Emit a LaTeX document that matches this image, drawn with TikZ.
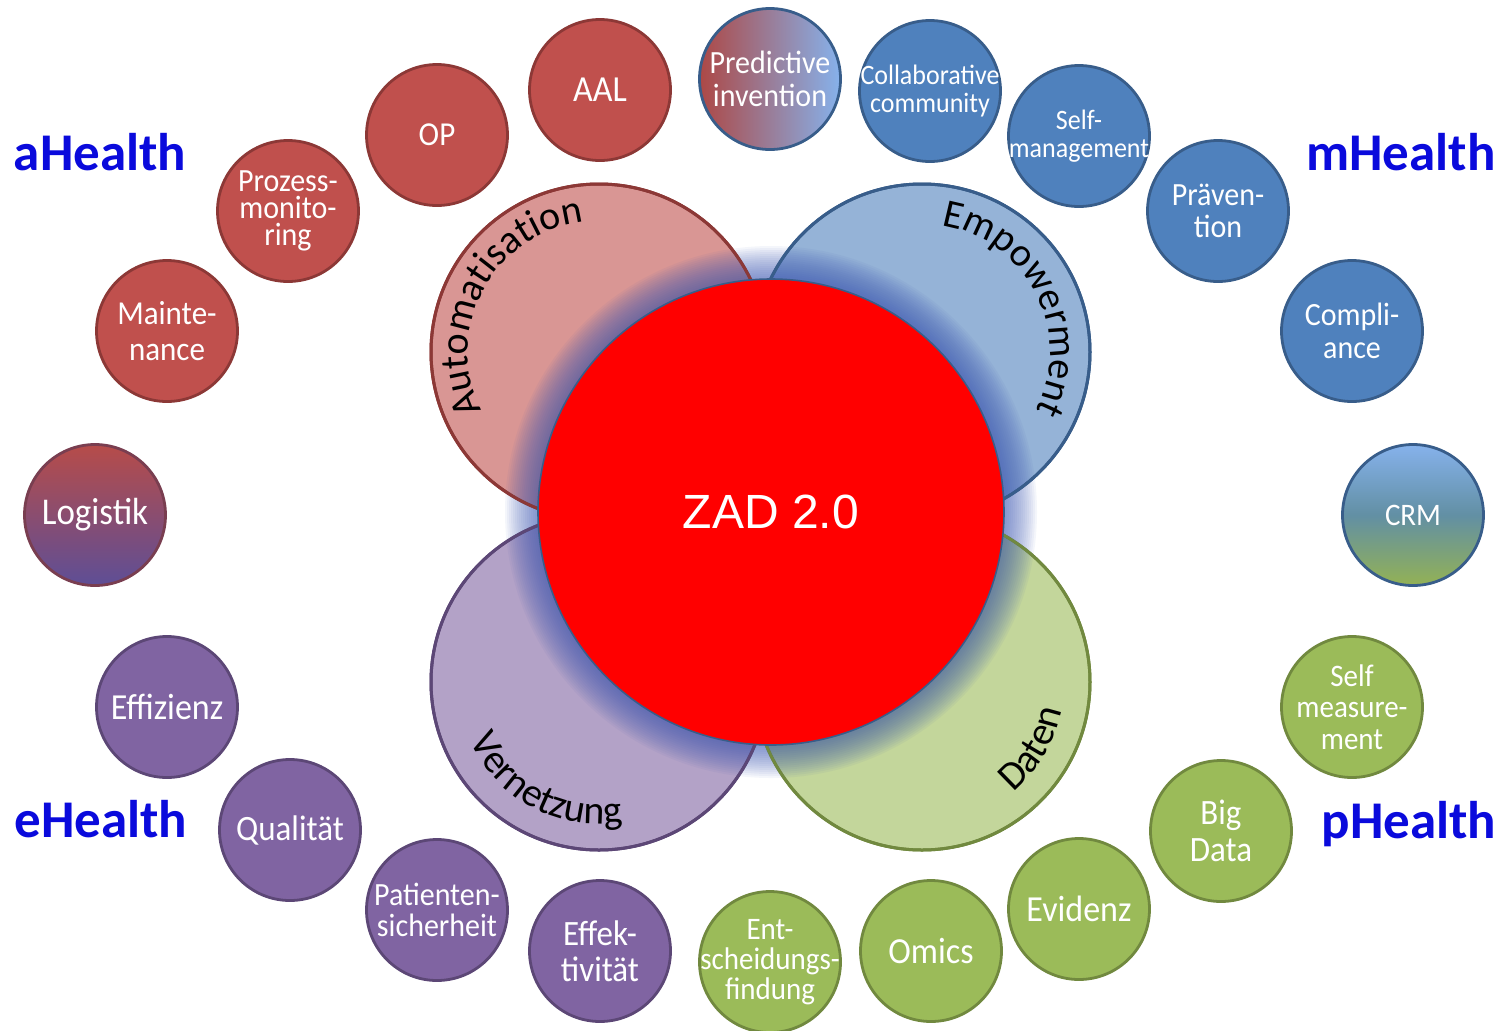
\documentclass[tikz,border=0pt]{standalone}
\usepackage{fontspec}
\setmainfont{Carlito}
\newfontfamily\arialfont{Liberation Sans}
\usetikzlibrary{decorations.text}

\definecolor{redfill}{HTML}{C0504D}
\definecolor{redline}{HTML}{8C3836}
\definecolor{bluefill}{HTML}{4F81BD}
\definecolor{blueline}{HTML}{385D8A}
\definecolor{purplefill}{HTML}{8064A2}
\definecolor{purpleline}{HTML}{5C4776}
\definecolor{greenfill}{HTML}{9BBB59}
\definecolor{greenline}{HTML}{71893F}
\definecolor{redlight}{HTML}{D99694}
\definecolor{bluelight}{HTML}{95B3D7}
\definecolor{purplelight}{HTML}{B3A2C7}
\definecolor{greenlight}{HTML}{C3D69B}
\definecolor{glowblue}{HTML}{3A55B0}
\definecolor{healthblue}{HTML}{0A0ADC}
\definecolor{skyblue}{HTML}{86B2EC}
\definecolor{dullpurple}{HTML}{5E4E96}

\newcommand\arcfont{\fontsize{20}{22}\selectfont}

\tikzset{
  bubble/.style={circle, minimum size=70.5pt, inner sep=0pt, line width=1.4pt},
  redb/.style={bubble, fill=redfill, draw=redline},
  blueb/.style={bubble, fill=bluefill, draw=blueline},
  purpleb/.style={bubble, fill=purplefill, draw=purpleline},
  greenb/.style={bubble, fill=greenfill, draw=greenline},
  btxt/.style 2 args={text=white, align=center, inner sep=0pt, yscale=1.08,
    font=\fontsize{#1}{#2}\selectfont},
  bigc/.style={circle, minimum size=168pt, inner sep=0pt, line width=1.5pt},
  zadc/.style={circle, minimum size=233pt, inner sep=0pt, fill=red, draw=blueline,
    line width=0.8pt, text=white, font=\arialfont\fontsize{24}{28}\selectfont},
  health/.style={text=healthblue, anchor=base, font=\bfseries\fontsize{26.5}{30}\selectfont},
  arctext/.style={decorate, decoration={text along path, text align=center,
    text={|\arcfont|#1}}}
}

\begin{document}
\begin{tikzpicture}[x=0.5pt,y=-0.5pt]
\useasboundingbox (0,0) rectangle (1506,1030);

% four fields
\node[bigc, fill=redlight, draw=redline] (auto) at (599,352) {};
\node[bigc, fill=bluelight, draw=blueline] (emp) at (922,352) {};
\node[bigc, fill=purplelight, draw=purpleline] (vern) at (599,682) {};
\node[bigc, fill=greenlight, draw=greenline] (daten) at (922,682) {};

% glow and centre
\coordinate (mid) at (771,512);
\foreach \r in {266,264,...,236}
  \fill[glowblue, opacity=0.055] (mid) circle (\r);
\foreach \n/\c in {auto/redline, emp/blueline, vern/purpleline, daten/greenline}
  \draw[\c, line width=1.5pt] (\n.center) circle (168);
\node[zadc] (zad) at (mid) {ZAD 2.0};

\path[arctext=Automatisation] (auto.center) ++(138:131) arc[start angle=138, end angle=279, radius=131];
\path[arctext=Empowerment] (emp.center) ++(-97:128) arc[start angle=-97, end angle=43, radius=128];
\path[arctext=Vernetzung] (vern.center) ++(178:142) arc[start angle=178, end angle=58, radius=142];
\path[arctext=Daten] (daten.center) ++(91:143) arc[start angle=91, end angle=-29, radius=143];

% aHealth
\node[redb, label={[btxt={17}{19}]center:AAL}] (aal) at (600,90) {};
\node[redb, label={[btxt={15.5}{17}]center:OP}] (op) at (437,135) {};
\node[redb, label={[btxt={15}{12.5}]center:{Prozess-\\monito-\\ring}}] (proz) at (288,211) {};
\node[redb, label={[btxt={15.5}{16.5}]center:{Mainte-\\nance}}] (maint) at (167,331) {};
\node[bubble, top color=redfill!95!black, bottom color=dullpurple,
  draw=redline!60!purpleline, label={[btxt={17.5}{19}]center:Logistik}] (logi) at (95,515) {};

% mHealth
\node[bubble, left color=redfill!90!black, right color=skyblue,
  draw=blueline, label={[btxt={15}{15}]center:{Predictive\\invention}}] (pred) at (770,79) {};
\node[blueb, label={[btxt={13}{13}]center:{Collaborative\\community}}] (coll) at (930,91) {};
\node[blueb, label={[btxt={13}{13}]center:{Self-\\management}}] (selfm) at (1079,136) {};
\node[blueb, label={[btxt={15}{15}]center:{Präven-\\tion}}] (praev) at (1218,211) {};
\node[blueb, label={[btxt={15}{15}]center:{Compli-\\ance}}] (compl) at (1352,331) {};
\node[bubble, top color=skyblue, bottom color=greenfill!95!black,
  middle color=bluefill!75!greenfill, draw=blueline,
  label={[btxt={14.5}{16}]center:CRM}] (crm) at (1413,515) {};

% eHealth
\node[purpleb, label={[btxt={17}{19}]center:Effizienz}] (effiz) at (167,707) {};
\node[purpleb, label={[btxt={16.5}{19}]center:Qualität}] (qual) at (290,830) {};
\node[purpleb, label={[btxt={15}{14}]center:{Patienten-\\sicherheit}}] (pat) at (437,910) {};
\node[purpleb, label={[btxt={16.5}{16.5}]center:{Effek-\\tivität}}] (effek) at (600,951) {};

% pHealth
\node[greenb, label={[btxt={14.5}{14}]center:{Ent-\\scheidungs-\\findung}}] (ent) at (770,962) {};
\node[greenb, label={[btxt={17}{19}]center:Omics}] (omics) at (931,951) {};
\node[greenb, label={[btxt={17}{19}]center:Evidenz}] (evid) at (1079,909) {};
\node[greenb, label={[btxt={16.5}{17}]center:{Big\\Data}}] (big) at (1221,831) {};
\node[greenb, label={[btxt={14.5}{14.5}]center:{Self\\measure-\\ment}}] (selfme) at (1352,707) {};

\node[health] (ah) at (100,170) {aHealth};
\node[health] (mh) at (1401,170) {mHealth};
\node[health] (eh) at (101,837) {eHealth};
\node[health] (ph) at (1409,838) {pHealth};
\end{tikzpicture}
\end{document}
